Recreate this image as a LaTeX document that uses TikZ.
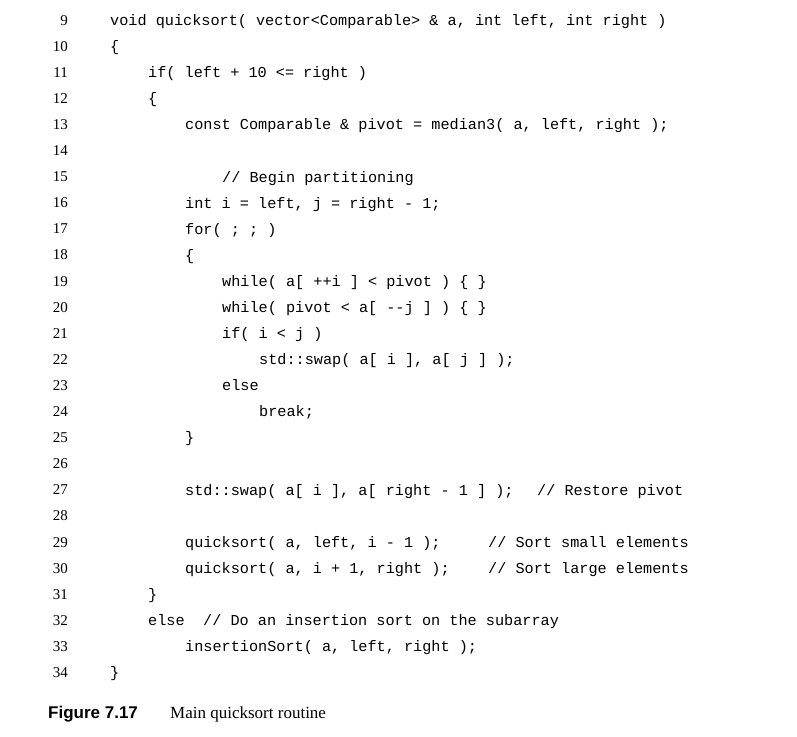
\documentclass[tikz,border=0pt]{standalone}
\usepackage{fontspec}
\setmainfont{Liberation Serif}
\newfontfamily\codefont{Liberation Mono}[Ligatures=NoCommon]
\newfontfamily\capfont{Liberation Sans}
\usetikzlibrary{positioning}
\tikzset{%
  % Specifications for style of nodes:
      base/.style = {inner sep=0pt, anchor=base west},
      code/.style = {base, font=\codefont\fontsize{15.2}{18}\selectfont},
    lineno/.style = {inner sep=0pt, anchor=base east,
                     font=\fontsize{15}{18}\selectfont},
}
\begin{document}
\begin{tikzpicture}[x=1pt, y=-1pt]
\useasboundingbox (0,0) rectangle (797,736);

\foreach \n [count=\k from 0] in {9,...,34}
  \node (L\n) [lineno] at (68, 25+26.1*\k) {\n};

\node (c9)  [code] at (110, 25)   {void quicksort( vector<Comparable> \& a, int left, int right )};
\node (c10) [code] at (110, 51)   {\{};
\node (c11) [code] at (148, 77)   {if( left + 10 <= right )};
\node (c12) [code] at (148, 103)  {\{};
\node (c13) [code] at (185, 129)  {const Comparable \& pivot = median3( a, left, right );};
\node (c15) [code] at (222, 182)  {// Begin partitioning};
\node (c16) [code] at (185, 208)  {int i = left, j = right - 1;};
\node (c17) [code] at (185, 234)  {for( ; ; )};
\node (c18) [code] at (185, 260)  {\{};
\node (c19) [code] at (222, 286)  {while( a[ ++i ] < pivot ) \{ \}};
\node (c20) [code] at (222, 312)  {while( pivot < a[ -{}-j ] ) \{ \}};
\node (c21) [code] at (222, 338)  {if( i < j )};
\node (c22) [code] at (259, 364)  {std::swap( a[ i ], a[ j ] );};
\node (c23) [code] at (222, 390)  {else};
\node (c24) [code] at (259, 416)  {break;};
\node (c25) [code] at (185, 442)  {\}};
\node (c27) [code] at (185, 495)  {std::swap( a[ i ], a[ right - 1 ] );};
\node (k27) [code] at (537, 495)  {// Restore pivot};
\node (c29) [code] at (185, 547)  {quicksort( a, left, i - 1 );};
\node (k29) [code] at (488, 547)  {// Sort small elements};
\node (c30) [code] at (185, 573)  {quicksort( a, i + 1, right );};
\node (k30) [code] at (488, 573)  {// Sort large elements};
\node (c31) [code] at (148, 599)  {\}};
\node (c32) [code] at (148, 625)  {else};
\node (k32) [code] at (203, 625)  {// Do an insertion sort on the subarray};
\node (c33) [code] at (185, 651)  {insertionSort( a, left, right );};
\node (c34) [code] at (110, 677)  {\}};

\node (fig) [base, font=\capfont\bfseries\fontsize{17}{20}\selectfont]
      at (48, 718) {Figure 7.17};
\node (cap) [base, font=\fontsize{17}{20}\selectfont]
      at (170, 718) {Main quicksort routine};
\end{tikzpicture}
\end{document}
